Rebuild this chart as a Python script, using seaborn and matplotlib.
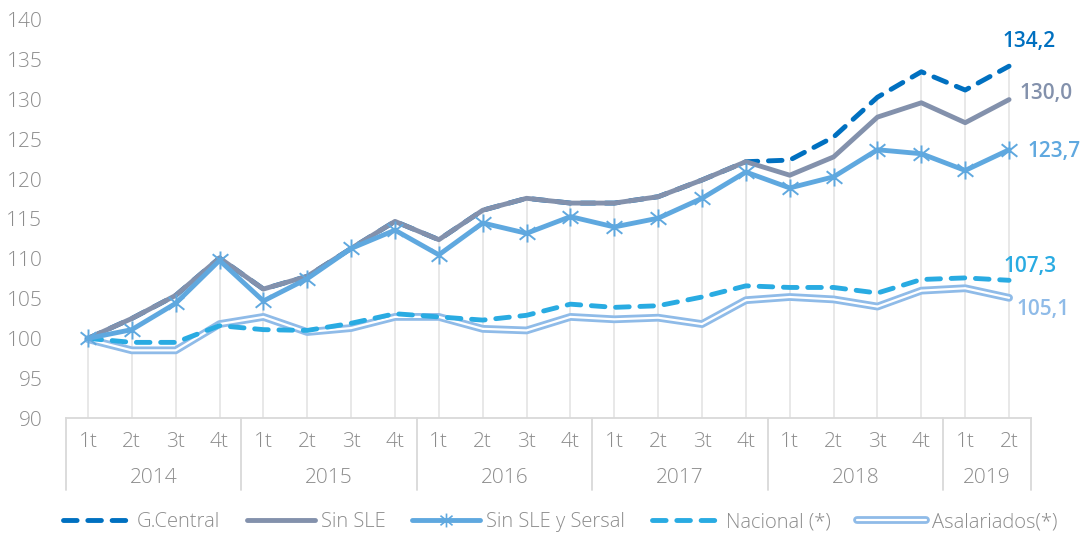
import numpy as np
import pandas as pd
import matplotlib
matplotlib.use("Agg")
import matplotlib.pyplot as plt
from matplotlib.path import Path
from matplotlib.lines import Line2D
from matplotlib.legend_handler import HandlerTuple
import seaborn as sns

# data
quarters = ["1t", "2t", "3t", "4t"] * 5 + ["1t", "2t"]
years = ["2014", "2015", "2016", "2017", "2018", "2019"]
year_sizes = [4, 4, 4, 4, 4, 2]

g_central = [100.0, 102.5, 105.4, 110.1, 106.2, 107.8, 111.3, 114.7, 112.4, 116.1, 117.6,
             117.0, 117.0, 117.8, 119.9, 122.2, 122.4, 125.3, 130.3, 133.5, 131.2, 134.2]
sin_sle = [100.0, 102.5, 105.4, 110.1, 106.2, 107.8, 111.3, 114.7, 112.4, 116.1, 117.6,
           117.0, 117.0, 117.8, 119.9, 122.2, 120.5, 122.8, 127.8, 129.6, 127.1, 130.0]
sin_sle_sersal = [100.0, 101.1, 104.4, 109.8, 104.7, 107.5, 111.3, 113.6, 110.5, 114.5, 113.2,
                  115.3, 114.0, 115.1, 117.6, 120.9, 118.9, 120.3, 123.7, 123.2, 121.1, 123.7]
nacional = [100.0, 99.5, 99.5, 101.6, 101.1, 101.0, 101.9, 103.1, 102.7, 102.3, 102.9,
            104.3, 103.9, 104.1, 105.2, 106.6, 106.4, 106.4, 105.7, 107.4, 107.6, 107.3]
asalariados = [99.9, 98.5, 98.5, 101.8, 102.7, 100.8, 101.3, 102.7, 102.7, 101.2, 101.0,
               102.7, 102.4, 102.6, 101.8, 104.8, 105.2, 104.9, 104.0, 106.0, 106.3, 105.1]

end_labels = ["134,2", "130,0", "123,7", "107,3", "105,1"]

c_central = "#0070C0"
c_sle = "#8391AC"
c_sersal = "#5FA8DF"
c_nac = "#29ABE2"
c_asal = "#8FBBE8"
c_text = "#8C8C8C"
c_axis = "#D9D9D9"

sns.set_theme(style="white")
plt.rcParams["font.family"] = ["Open Sans", "DejaVu Sans"]

df = pd.DataFrame({
    "idx": np.arange(len(quarters)),
    "G.Central": g_central,
    "Sin SLE": sin_sle,
    "Sin SLE y Sersal": sin_sle_sersal,
    "Nacional (*)": nacional,
    "Asalariados(*)": asalariados,
})

fig = plt.figure(figsize=(10.85, 5.36), dpi=100)
ax = fig.add_axes([66 / 1085, 118 / 536, 965 / 1085, 398 / 536])

# drop lines from the highest series down to the axis
top = df[["G.Central", "Sin SLE", "Sin SLE y Sersal", "Nacional (*)", "Asalariados(*)"]].max(axis=1)
ax.vlines(df["idx"], 90, top, color="#E4E4E4", lw=1.2, zorder=0)

# asterisk marker (x with a vertical bar)
star = Path([(-1, -0.8), (1, 0.8), (-1, 0.8), (1, -0.8), (0, -1.15), (0, 1.15)],
            [Path.MOVETO, Path.LINETO, Path.MOVETO, Path.LINETO, Path.MOVETO, Path.LINETO])

dash = (2.8, 2.2)

# Asalariados: double line (thick light blue with white core)
sns.lineplot(data=df, x="idx", y="Asalariados(*)", ax=ax, color=c_asal, lw=5.6,
             solid_capstyle="round", zorder=2)
sns.lineplot(data=df, x="idx", y="Asalariados(*)", ax=ax, color="white", lw=1.6, zorder=2.1)

sns.lineplot(data=df, x="idx", y="Nacional (*)", ax=ax, color=c_nac, lw=3.5, zorder=3)
ax.lines[-1].set_dashes(dash)
ax.lines[-1].set_dash_capstyle("round")

sns.lineplot(data=df, x="idx", y="G.Central", ax=ax, color=c_central, lw=3.5, zorder=4)
ax.lines[-1].set_dashes(dash)
ax.lines[-1].set_dash_capstyle("round")

sns.lineplot(data=df, x="idx", y="Sin SLE", ax=ax, color=c_sle, lw=3.5,
             solid_capstyle="round", zorder=5)

sns.lineplot(data=df, x="idx", y="Sin SLE y Sersal", ax=ax, color=c_sersal, lw=3.5,
             marker=star, markersize=13, markeredgewidth=1.4, markeredgecolor=c_sersal,
             markerfacecolor="none", solid_capstyle="round", zorder=6)

ax.set_xlim(-0.5, len(quarters) - 0.5)
ax.set_ylim(90, 140)
ax.set_yticks(np.arange(90, 141, 5))
ax.tick_params(axis="y", length=0, pad=17, labelsize=15, labelcolor=c_text)
ax.set_xticks([])
ax.set_xlabel("")
ax.set_ylabel("")
for lab in ax.get_yticklabels():
    lab.set_fontweight("light")
for s in ["top", "right", "left"]:
    ax.spines[s].set_visible(False)
ax.spines["bottom"].set_color(c_axis)
ax.spines["bottom"].set_linewidth(1.3)

# multi-level category axis
for i, q in enumerate(quarters):
    ax.text(i, -0.060, q, transform=ax.get_xaxis_transform(), ha="center", va="center",
            fontsize=15, color=c_text, fontweight="light")
start = 0
bounds = [-0.5]
for y, n in zip(years, year_sizes):
    ax.text(start + (n - 1) / 2, -0.151, y, transform=ax.get_xaxis_transform(),
            ha="center", va="center", fontsize=15, color=c_text, fontweight="light")
    start += n
    bounds.append(start - 0.5)
for b in bounds:
    ax.plot([b, b], [0, -0.181], transform=ax.get_xaxis_transform(), color=c_axis,
            lw=1.3, clip_on=False)

# end-of-series labels
last = len(quarters) - 1
label_specs = [
    (g_central[-1], c_central, (20, 25), "center"),
    (sin_sle[-1], c_sle, (10, 6), "left"),
    (sin_sle_sersal[-1], c_sersal, (18, -2), "left"),
    (nacional[-1], c_nac, (-6, 14), "left"),
    (asalariados[-1], c_asal, (7, -12), "left"),
]
for txt, (val, col, off, ha) in zip(end_labels, label_specs):
    ax.annotate(txt, xy=(last, val), xytext=off, textcoords="offset pixels",
                ha=ha, va="center", fontsize=15, fontweight="semibold", color=col)

# legend
h_central = Line2D([], [], color=c_central, lw=3.5, dashes=dash, dash_capstyle="round")
h_sle = Line2D([], [], color=c_sle, lw=3.5)
h_sersal = Line2D([], [], color=c_sersal, lw=3.5, marker=star, markersize=10,
                  markeredgewidth=1.2, markerfacecolor="none", markevery=[1])
h_nac = Line2D([], [], color=c_nac, lw=3.5, dashes=dash, dash_capstyle="round")
h_asal = (Line2D([], [], color=c_asal, lw=5.6), Line2D([], [], color="white", lw=1.6))
leg = fig.legend([h_central, h_sle, h_sersal, h_nac, h_asal],
                 ["G.Central", "Sin SLE", "Sin SLE y Sersal", "Nacional (*)", "Asalariados(*)"],
                 loc="center", bbox_to_anchor=(0.516, 14 / 536), ncol=5, frameon=False,
                 handlelength=3.4, handletextpad=0.3, columnspacing=1.3, fontsize=14.5,
                 handler_map={tuple: HandlerTuple(ndivide=1)})
for t in leg.get_texts():
    t.set_color(c_text)
    t.set_fontweight("light")

fig.savefig("out.png", dpi=100)
